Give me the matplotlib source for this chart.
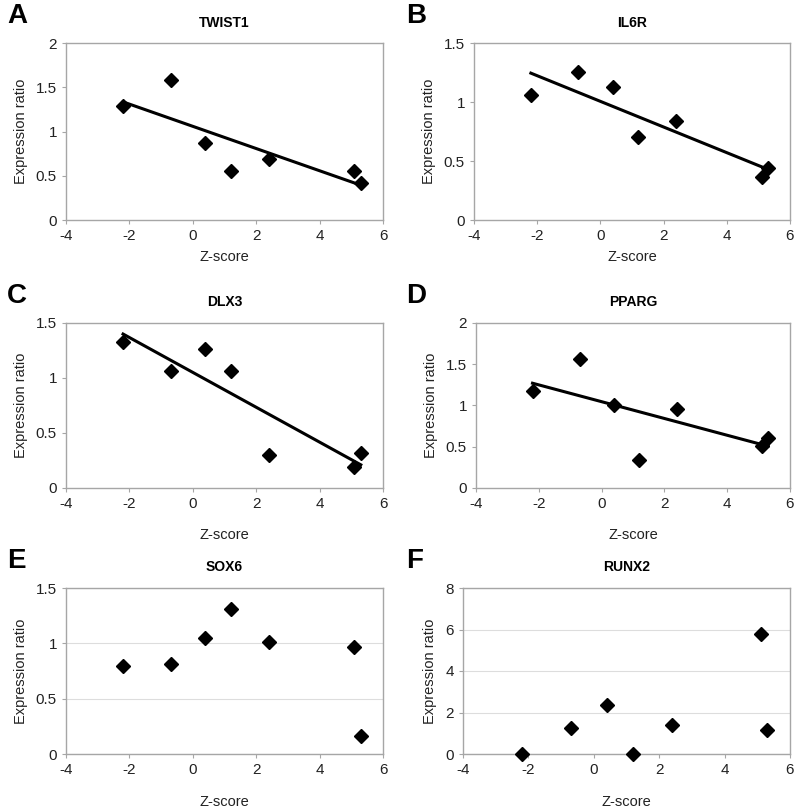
import numpy as np
import matplotlib
matplotlib.use('Agg')
import matplotlib.pyplot as plt

plt.rcParams['font.family'] = ['Liberation Sans', 'DejaVu Sans']
plt.rcParams['axes.unicode_minus'] = False

z = [-2.2, -0.7, 0.4, 1.2, 2.4, 5.1, 5.3]

twist1 = [1.29, 1.585, 0.868, 0.558, 0.687, 0.555, 0.423]
il6r = [1.061, 1.254, 1.124, 0.705, 0.835, 0.365, 0.444]
dlx3 = [1.324, 1.067, 1.267, 1.067, 0.303, 0.188, 0.318]
pparg = [1.172, 1.564, 1.002, 0.343, 0.962, 0.505, 0.606]
sox6 = [0.798, 0.813, 1.048, 1.310, 1.009, 0.970, 0.160]
runx2 = [0.0, 1.253, 2.36, 0.0, 1.38, 5.77, 1.14]

letters = ['A', 'B', 'C', 'D', 'E', 'F']
genes = ['TWIST1', 'IL6R', 'DLX3', 'PPARG', 'SOX6', 'RUNX2']
values = [twist1, il6r, dlx3, pparg, sox6, runx2]
yticks = [[0, 0.5, 1, 1.5, 2], [0, 0.5, 1, 1.5], [0, 0.5, 1, 1.5],
          [0, 0.5, 1, 1.5, 2], [0, 0.5, 1, 1.5], [0, 2, 4, 6, 8]]
trend = [True, True, True, True, False, False]
grid = [False, False, False, False, True, True]

W, H = 799, 811
# pixel boxes: left, right, top, bottom
boxes = [(66, 383, 43, 220), (474, 790, 43, 220),
         (66, 383, 323, 488), (476, 790, 323, 488),
         (66, 383, 588, 754), (463, 790, 588, 754)]
xlab_y = [257, 257, 535, 535, 802, 802]
title_y = [23, 23, 302, 302, 567, 567]

fig = plt.figure(figsize=(W / 100, H / 100), dpi=100)
grey = '#a6a6a6'

for i in range(6):
    l, r, t, b = boxes[i]
    ax = fig.add_axes([l / W, 1 - b / H, (r - l) / W, (b - t) / H])
    ax.set_xlim(-4, 6)
    ax.set_ylim(yticks[i][0], yticks[i][-1])
    ax.set_xticks([-4, -2, 0, 2, 4, 6])
    ax.set_yticks(yticks[i])
    ax.set_yticklabels([('%g' % v) for v in yticks[i]])
    for s in ax.spines.values():
        s.set_color(grey)
        s.set_linewidth(1.0)
    ax.tick_params(colors=grey, labelcolor='#222222', labelsize=11,
                   length=3, width=0.8)
    if grid[i]:
        ax.yaxis.grid(True, color='#dddddd', linewidth=0.8)
        ax.set_axisbelow(True)
    ax.plot(z, values[i], 'D', color='black', markersize=7, zorder=3,
            clip_on=False)
    if trend[i]:
        k, c = np.polyfit(z, values[i], 1)
        xs = np.array([min(z), max(z)])
        ax.plot(xs, k * xs + c, color='black', linewidth=2.2, zorder=2)
    ax.set_ylabel('Expression ratio', fontsize=10.5, color='#222222', labelpad=6)
    cx = (l + r) / 2 / W
    fig.text(cx, 1 - xlab_y[i] / H, 'Z-score', ha='center', va='center',
             fontsize=10.5, color='#222222')
    fig.text(cx, 1 - title_y[i] / H, genes[i], ha='center', va='center',
             fontsize=10, fontweight='bold')
    lx = 7 if i % 2 == 0 else 406
    ly = [16, 16, 296, 296, 561, 561][i]
    fig.text(lx / W, 1 - ly / H, letters[i], ha='left', va='center',
             fontsize=20, fontweight='bold')

fig.savefig('out.png', dpi=100)
